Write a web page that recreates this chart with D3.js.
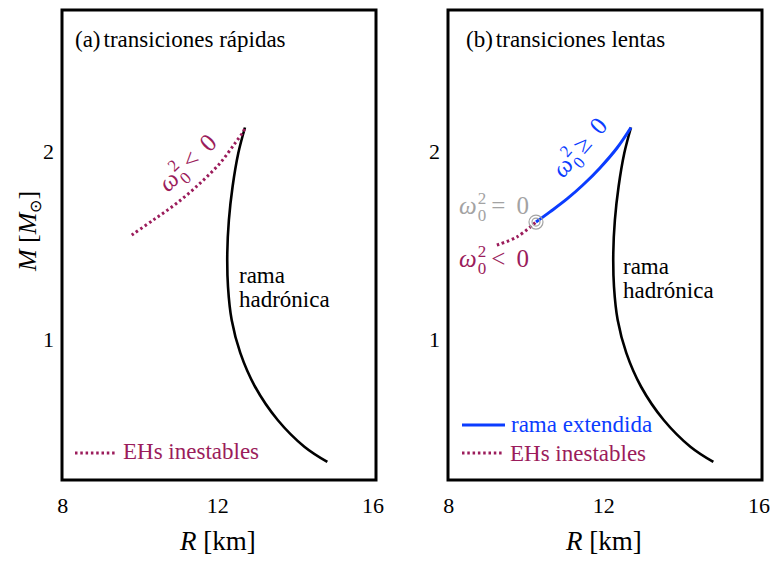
<!DOCTYPE html>
<html><head><meta charset="utf-8">
<script src="https://cdn.jsdelivr.net/npm/d3@7"></script>
<style>body{margin:0;background:#fff}svg{display:block}</style>
</head><body>
<script>
// Data
const hadronicR = [12.70, 12.527, 12.380, 12.285, 12.244, 12.262, 12.357, 12.579, 12.961, 13.544, 14.232, 14.825];
const hadronicM = [2.125, 1.988, 1.810, 1.633, 1.457, 1.278, 1.101, 0.926, 0.746, 0.569, 0.427, 0.346];
const unstableFastR = [9.778, 10.335, 10.938, 11.539, 12.055, 12.442, 12.656, 12.70];
const unstableFastM = [1.553, 1.633, 1.722, 1.828, 1.935, 2.041, 2.103, 2.125];
const extendedR = [10.25, 10.61, 11.05, 11.46, 11.90, 12.34, 12.70];
const extendedM = [1.622, 1.676, 1.745, 1.819, 1.910, 2.016, 2.125];
const unstableSlowR = [9.24, 9.76, 10.25];
const unstableSlowM = [1.50, 1.543, 1.622];
const zeroPointR = [10.25];
const zeroPointM = [1.622];
const xTicks = [8, 12, 16];
const yTicks = [1, 2];

const W = 771, H = 561;
const FONT = "'Liberation Serif', 'Times New Roman', Times, serif";
const svg = d3.select("body").append("svg").attr("width", W).attr("height", H)
  .attr("font-family", FONT);
const FS = 23, TFS = 22;
const maroon = "#9b1c5b", blue = "#0b3cff", gray = "#a3a3a3";

const zip = (a, b) => a.map((v, i) => [v, b[i]]);

function panel(x0, opts) {
  const x = d3.scaleLinear().domain([7.98, 16.08]).range([x0, x0 + 314]);
  const y = d3.scaleLinear().domain([0.25, 2.75]).range([480, 10]);
  const g = svg.append("g");
  const line = d3.line().x(d => x(d[0])).y(d => y(d[1])).curve(d3.curveCatmullRom.alpha(0.5));

  g.append("rect").attr("x", x0).attr("y", 10).attr("width", 314).attr("height", 470)
    .attr("fill", "none").attr("stroke", "#000").attr("stroke-width", 3);

  g.selectAll(".xt").data(xTicks).enter().append("text")
    .attr("x", d => x(d)).attr("y", 513).attr("text-anchor", "middle")
    .attr("font-size", TFS).text(d => d);
  g.selectAll(".yt").data(yTicks).enter().append("text")
    .attr("x", x0 - 8).attr("y", d => y(d) + 8).attr("text-anchor", "end")
    .attr("font-size", TFS).text(d => d);

  const xl = g.append("text").attr("x", x(12)).attr("y", 550).attr("text-anchor", "middle").attr("font-size", 27);
  xl.append("tspan").attr("font-style", "italic").text("R");
  xl.append("tspan").text(" [km]");

  g.append("path").attr("d", line(zip(hadronicR, hadronicM))).attr("fill", "none")
    .attr("stroke", "#000").attr("stroke-width", 2.6);

  opts.draw(g, x, y, line);

  const t = g.append("text").attr("x", x0 + opts.tx).attr("y", 47).attr("font-size", FS);
  t.append("tspan").text(opts.tag);
  t.append("tspan").attr("dx", 3).text(opts.title);

  g.append("text").attr("x", x0 + opts.rx).attr("y", opts.ry).attr("font-size", FS).text("rama");
  g.append("text").attr("x", x0 + opts.rx).attr("y", opts.ry + 24).attr("font-size", FS).text("hadrónica");
  return {x, y, g};
}

function omega(g, xx, yy, rel, color, rot, fs) {
  const t = g.append("text").attr("font-size", fs).attr("fill", color)
    .attr("transform", `translate(${xx},${yy}) rotate(${rot || 0})`);
  t.append("tspan").attr("font-style", "italic").text("ω");
  t.append("tspan").attr("font-size", fs * 0.68).attr("dy", -fs * 0.42).attr("dx", 1).text("2");
  t.append("tspan").attr("font-size", fs * 0.68).attr("dy", fs * 0.7).attr("dx", -fs * 0.34).text("0");
  t.append("tspan").attr("dy", -fs * 0.28).attr("dx", fs * 0.2).text(rel);
  t.append("tspan").attr("dx", fs * 0.2).text(" 0");
}

panel(62, {
  tag: "(a)", title: "transiciones rápidas", rx: 177, ry: 283, tx: 13,
  draw: (g, x, y, line) => {
    g.append("path").attr("d", line(zip(unstableFastR, unstableFastM))).attr("fill", "none")
      .attr("stroke", maroon).attr("stroke-width", 3).attr("stroke-dasharray", "2.5,2.8");
    omega(g, 168, 193, "<", maroon, -44, 25);
    g.append("line").attr("x1", 75).attr("x2", 117).attr("y1", 453).attr("y2", 453)
      .attr("stroke", maroon).attr("stroke-width", 3).attr("stroke-dasharray", "2.5,2.8");
    g.append("text").attr("x", 123).attr("y", 459).attr("font-size", FS).attr("fill", maroon).text("EHs inestables");
  }
});

panel(448, {
  tag: "(b)", title: "transiciones lentas", rx: 175, ry: 274, tx: 18,
  draw: (g, x, y, line) => {
    g.append("path").attr("d", line(zip(unstableSlowR, unstableSlowM))).attr("fill", "none")
      .attr("stroke", maroon).attr("stroke-width", 3).attr("stroke-dasharray", "2.5,2.8");
    g.append("path").attr("d", line(zip(extendedR, extendedM))).attr("fill", "none")
      .attr("stroke", blue).attr("stroke-width", 3);
    const zp = zip(zeroPointR, zeroPointM);
    g.selectAll(".zo").data(zp).enter().append("circle").attr("cx", d => x(d[0])).attr("cy", d => y(d[1]))
      .attr("r", 7).attr("fill", "none").attr("stroke", gray).attr("stroke-width", 1.2);
    g.selectAll(".zi").data(zp).enter().append("circle").attr("cx", d => x(d[0])).attr("cy", d => y(d[1]))
      .attr("r", 4).attr("fill", "none").attr("stroke", gray).attr("stroke-width", 1.2);
    omega(g, 563, 179, "≥", blue, -49, 25);
    omega(g, 459, 214, "=", gray, 0, 25);
    omega(g, 459, 267, "<", maroon, 0, 25);
    g.append("line").attr("x1", 462).attr("x2", 505).attr("y1", 425).attr("y2", 425)
      .attr("stroke", blue).attr("stroke-width", 3);
    g.append("text").attr("x", 511).attr("y", 432).attr("font-size", FS).attr("fill", blue).text("rama extendida");
    g.append("line").attr("x1", 462).attr("x2", 503).attr("y1", 453).attr("y2", 453)
      .attr("stroke", maroon).attr("stroke-width", 3).attr("stroke-dasharray", "2.5,2.8");
    g.append("text").attr("x", 510).attr("y", 461).attr("font-size", FS).attr("fill", maroon).text("EHs inestables");
  }
});

const yl = svg.append("text").attr("transform", "translate(36,231) rotate(-90)")
  .attr("text-anchor", "middle").attr("font-size", 26);
yl.append("tspan").attr("font-style", "italic").text("M");
yl.append("tspan").text(" [");
yl.append("tspan").attr("font-style", "italic").text("M");
yl.append("tspan").attr("font-size", 16).attr("dy", 5).text("⊙");
yl.append("tspan").attr("dy", -5).text("]");
</script>
</body></html>
